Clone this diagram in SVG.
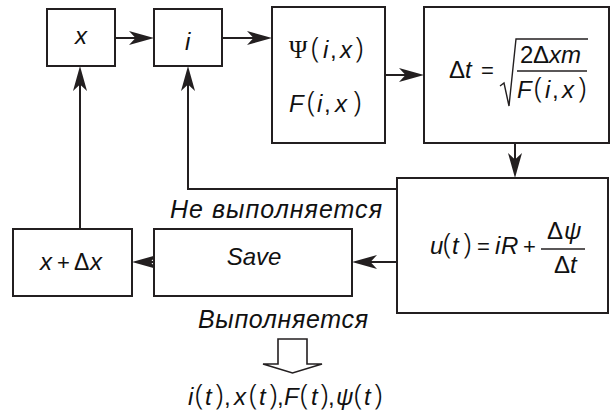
<svg xmlns="http://www.w3.org/2000/svg" width="611" height="414" viewBox="0 0 611 414">
<defs>
<style>
.box{fill:#fff;stroke:#231f20;stroke-width:2}
.ln{fill:none;stroke:#231f20;stroke-width:2}
.thin{fill:none;stroke:#231f20;stroke-width:1.4}
text{font-family:"Liberation Sans",Arial,sans-serif;fill:#111;font-size:24px}
.it{font-style:italic}
.up{font-style:normal}
.p{font-family:"Noto Sans","Liberation Sans",sans-serif;font-weight:300;font-style:normal;font-size:30px}
.sf{font-family:"Liberation Serif","Times New Roman",serif;font-style:normal;font-size:25px}
.lbl{font-style:italic;font-size:25px}
</style>
<marker id="ah" markerUnits="userSpaceOnUse" markerWidth="26" markerHeight="16" refX="21" refY="8" orient="auto" overflow="visible">
<path d="M25,8 L0,1 L6.5,8 L0,15 Z" fill="#231f20"/>
</marker>
</defs>

<g id="connectors">
<path class="ln" d="M115,38 H150" marker-end="url(#ah)"/>
<path class="ln" d="M222,38 H268" marker-end="url(#ah)"/>
<path class="ln" d="M385,75 H420" marker-end="url(#ah)"/>
<path class="ln" d="M515,143 V174" marker-end="url(#ah)"/>
<path class="ln" d="M397,262 H356" marker-end="url(#ah)"/>
<path class="ln" d="M154,262 H136" marker-end="url(#ah)"/>
<path class="ln" d="M397,189 H188 V70" marker-end="url(#ah)"/>
<path class="ln" d="M80,229 V70" marker-end="url(#ah)"/>
</g>

<g id="node-x">
<rect class="box" x="47" y="9" width="68" height="57"/>
<text class="it" x="75" y="44">x</text>
</g>

<g id="node-i">
<rect class="box" x="154" y="9" width="68" height="57"/>
<text class="it" x="185" y="50">i</text>
</g>

<g id="node-psi">
<rect class="box" x="272" y="7" width="113" height="136"/>
<text y="58"><tspan class="sf" x="289">Ψ</tspan><tspan class="p" x="311">(</tspan><tspan class="it" x="323">i</tspan><tspan class="up" x="330">,</tspan><tspan class="it" x="340">x</tspan><tspan class="p" x="355">)</tspan></text>
<text y="112"><tspan class="it" x="289">F</tspan><tspan class="p" x="307">(</tspan><tspan class="it" x="317">i</tspan><tspan class="up" x="324">,</tspan><tspan class="it" x="335">x</tspan><tspan class="p" x="353">)</tspan></text>
</g>

<g id="node-dt">
<rect class="box" x="424" y="7" width="185" height="136"/>
<text y="78"><tspan class="up" x="449">Δ</tspan><tspan class="it" x="465">t</tspan><tspan class="up" x="481" font-size="22">=</tspan></text>
<path class="thin" d="M500,86 L504,83 L509,106 L516,39 H588"/>
<text y="63"><tspan class="up" x="520">2</tspan><tspan class="up" x="533">Δ</tspan><tspan class="it" x="549">x</tspan><tspan class="it" x="561">m</tspan></text>
<line class="thin" x1="517" y1="71" x2="587" y2="71"/>
<text y="98"><tspan class="it" x="517">F</tspan><tspan class="p" x="534">(</tspan><tspan class="it" x="545">i</tspan><tspan class="up" x="552">,</tspan><tspan class="it" x="562">x</tspan><tspan class="p" x="578">)</tspan></text>
</g>

<g id="node-u">
<rect class="box" x="397" y="178" width="211" height="135"/>
<text y="254"><tspan class="it" x="430">u</tspan><tspan class="p" x="443">(</tspan><tspan class="it" x="452">t</tspan><tspan class="p" x="463">)</tspan><tspan class="up" x="477" font-size="22">=</tspan><tspan class="it" x="495">i</tspan><tspan class="it" x="501">R</tspan><tspan class="up" x="523" font-size="22">+</tspan></text>
<line class="thin" x1="541" y1="249" x2="585" y2="249"/>
<text y="239"><tspan class="up" x="547">Δ</tspan><tspan class="it" x="564">ψ</tspan></text>
<text y="273"><tspan class="up" x="554">Δ</tspan><tspan class="it" x="570">t</tspan></text>
</g>

<g id="node-save">
<rect class="box" x="154" y="229" width="198" height="67"/>
<text class="it" x="254" y="265" font-size="27" text-anchor="middle">Save</text>
</g>

<g id="node-xdx">
<rect class="box" x="13" y="229" width="119" height="67"/>
<text y="270"><tspan class="it" x="40">x</tspan><tspan class="up" x="57" font-size="22">+</tspan><tspan class="up" x="74" font-size="23">Δ</tspan><tspan class="it" x="90">x</tspan></text>
</g>

<g id="labels">
<text class="lbl" x="170" y="218" textLength="212" lengthAdjust="spacing">Не выполняется</text>
<text class="lbl" x="198" y="328" textLength="170" lengthAdjust="spacing">Выполняется</text>
<path d="M278,339 H307 V364 H322 L292.5,373 L263,364 H278 Z" fill="#fff" stroke="#231f20" stroke-width="1.6"/>
<text y="405"><tspan class="it" x="188">i</tspan><tspan class="p" x="195">(</tspan><tspan class="it" x="205">t</tspan><tspan class="p" x="215">)</tspan><tspan class="up" x="224">,</tspan><tspan class="it" x="234">x</tspan><tspan class="p" x="249">(</tspan><tspan class="it" x="259">t</tspan><tspan class="p" x="269">)</tspan><tspan class="up" x="277">,</tspan><tspan class="it" x="284">F</tspan><tspan class="p" x="300">(</tspan><tspan class="it" x="311">t</tspan><tspan class="p" x="320">)</tspan><tspan class="up" x="328">,</tspan><tspan class="it" x="336">ψ</tspan><tspan class="p" x="354">(</tspan><tspan class="it" x="364">t</tspan><tspan class="p" x="374">)</tspan></text>
</g>
</svg>
